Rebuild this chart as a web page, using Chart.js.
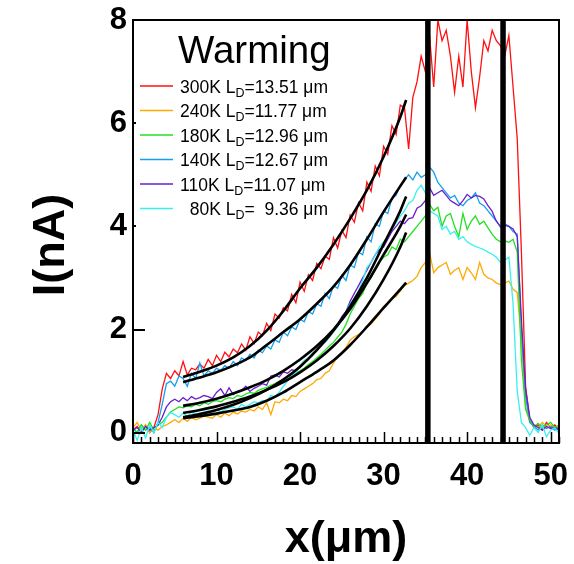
<!DOCTYPE html>
<html>
<head>
<meta charset="utf-8">
<title>Warming</title>
<script src="https://cdn.jsdelivr.net/npm/chart.js@4.4.0/dist/chart.umd.min.js"></script>
<style>
  html, body { margin: 0; padding: 0; background: #fff; }
  #wrap { width: 574px; height: 564px; }
</style>
</head>
<body>
<div id="wrap"><canvas id="chart" width="574" height="564"></canvas></div>
<script>
// traces are sampled every 0.5 um from x = 0 to x = 51
const xStep = 0.5;

const temps = ['300K', '240K', '180K', '140K', '110K', '80K'];
const diffLengths = ['13.51', '11.77', '12.96', '12.67', '11.07', '9.36'];
const seriesColors = ['#ff1010', '#ffaa00', '#22e022', '#149ff0', '#6a1fcc', '#38f0f0'];

const xTickValues = [0, 10, 20, 30, 40, 50];
const yTickValues = [0, 2, 4, 6, 8];

const trace300 = [
  0.05, 0.12, 0.02, 0.15, 0.0, 0.1, 0.35, 0.85, 1.15, 1.05,
  1.2, 1.1, 1.38, 1.12, 1.25, 1.22, 1.33, 1.25, 1.42, 1.3,
  1.5, 1.38, 1.56, 1.47, 1.62, 1.55, 1.72, 1.6, 1.86, 1.73,
  1.95, 1.88, 2.12, 1.98, 2.3, 2.22, 2.42, 2.36, 2.68, 2.52,
  2.92, 2.74, 3.06, 2.95, 3.28, 3.18, 3.42, 3.36, 3.78, 3.58,
  3.92, 3.78, 4.22, 4.08, 4.46, 4.3, 4.86, 4.68, 5.17, 4.98,
  5.55, 5.4, 5.95, 5.78, 6.35, 6.3, 5.5, 6.5, 6.8, 7.3,
  7.0, 7.7, 6.7, 8.0, 7.6, 7.8, 7.3, 6.6, 7.3, 6.7,
  8.0, 7.0, 6.3, 6.9, 7.6, 7.4, 7.8, 7.6, 7.5, 7.3,
  7.7, 6.7, 5.7, 3.5, 0.9, 0.25, 0.1, 0.15, 0.05, 0.2,
  0.1, 0.15, 0.05
];
const trace240 = [
  0.1, 0.2, 0.05, 0.15, 0.0, 0.1, 0.05, 0.12, 0.15, 0.2,
  0.25, 0.2, 0.28, 0.22, 0.3, 0.25, 0.28, 0.32, 0.3, 0.28,
  0.35, 0.3, 0.38, 0.33, 0.4, 0.36, 0.42, 0.4, 0.45, 0.42,
  0.5, 0.45, 0.58, 0.35, 0.6, 0.58, 0.65, 0.62, 0.72, 0.7,
  0.8, 0.85, 0.9, 0.95, 1.03, 1.05, 1.15, 1.2, 1.35, 1.48,
  1.55, 1.65, 1.8, 1.86, 1.9, 1.95, 2.06, 2.1, 2.2, 2.3,
  2.45, 2.52, 2.6, 2.64, 2.75, 2.85, 2.9, 2.95, 3.03, 3.2,
  3.3, 3.5, 3.1, 3.2, 3.25, 3.3, 3.07, 3.15, 3.2, 2.97,
  3.2, 3.1, 2.97, 3.3, 3.07, 3.0, 2.97, 2.9, 2.87, 2.9,
  2.94, 2.78, 2.72, 1.8, 0.5, 0.2, 0.15, 0.1, 0.2, 0.12,
  0.15, 0.1, 0.05
];
const trace180 = [
  0.1, 0.0, 0.15, 0.05, 0.2, 0.05, 0.15, 0.2, 0.3, 0.4,
  0.45, 0.5, 0.48, 0.52, 0.5, 0.55, 0.52, 0.58, 0.55, 0.6,
  0.62, 0.6, 0.65, 0.68, 0.66, 0.72, 0.7, 0.75, 0.78, 0.76,
  0.82, 0.85, 0.88, 0.92, 0.95, 1.0, 1.02, 1.08, 1.1, 1.15,
  1.2, 1.25, 1.32, 1.38, 1.45, 1.52, 1.6, 1.68, 1.75, 1.85,
  1.95, 2.1, 2.3, 2.45, 2.6, 2.7, 2.9, 3.0, 3.15, 3.3,
  3.4, 3.45, 3.6, 3.55, 3.75, 3.7, 3.8, 3.9, 4.0, 4.1,
  4.2, 4.43, 4.3, 4.37, 4.0, 4.2, 4.25, 4.0, 3.8, 4.25,
  3.94, 4.1, 4.2, 4.04, 4.1, 3.97, 3.85, 3.75, 3.7, 3.72,
  3.69, 3.75, 3.5, 1.4, 0.45, 0.25, 0.12, 0.18, 0.1, 0.15,
  0.2, 0.1, 0.15
];
const trace140 = [
  0.08, 0.0, 0.15, 0.05, 0.1, 0.0, 0.2, 0.55, 0.95, 1.0,
  0.9, 1.1, 1.05, 0.9, 1.15, 1.05, 1.35, 1.1, 1.2, 1.15,
  1.25, 1.2, 1.3, 1.25, 1.38, 1.3, 1.45, 1.4, 1.52, 1.45,
  1.6, 1.55, 1.68, 1.62, 1.8, 1.75, 1.95, 1.88, 2.05, 2.0,
  2.2, 2.15, 2.35, 2.3, 2.5, 2.45, 2.7, 2.6, 2.85, 2.8,
  3.05, 2.95, 3.25, 3.2, 3.5, 3.45, 3.8, 3.7, 4.05, 4.0,
  4.3, 4.25, 4.55, 4.6, 4.8, 4.9, 5.0, 4.9, 5.05, 4.95,
  5.0, 5.15, 5.05, 4.85, 4.75, 4.65, 4.55, 4.6, 4.45, 4.4,
  4.5, 4.55, 4.65, 4.45, 4.4, 4.3, 4.2, 4.1, 3.98, 4.05,
  4.0, 3.9, 3.85, 2.0, 0.7, 0.2, 0.12, 0.05, 0.15, 0.08,
  0.12, 0.05, 0.1
];
const trace110 = [
  0.05, 0.1, 0.0, 0.12, 0.05, 0.1, 0.15, 0.3, 0.5, 0.6,
  0.65, 0.6, 0.68, 0.62, 0.7, 0.65, 0.68, 0.72, 0.7, 0.66,
  0.78, 0.85, 0.72, 0.87, 0.74, 0.8, 0.82, 0.9, 0.8, 0.86,
  0.9, 0.95, 0.92, 1.1, 1.12, 1.08, 1.18, 1.15, 1.22, 1.2,
  1.3, 1.35, 1.45, 1.5, 1.62, 1.7, 1.8, 1.85, 2.0, 2.1,
  2.25, 2.35, 2.55, 2.7, 2.85, 3.0, 3.15, 3.3, 3.45, 3.55,
  3.6, 3.75, 3.9, 4.0, 4.1, 4.05, 4.15, 4.17, 4.35, 4.4,
  4.5, 4.75, 4.6, 4.65, 4.7, 4.6, 4.5, 4.45, 4.4, 4.5,
  4.62, 4.55, 4.6, 4.58, 4.53, 4.4, 4.29, 4.1, 4.0, 4.02,
  4.0, 3.95, 3.8, 2.2, 0.84, 0.3, 0.15, 0.1, 0.05, 0.12,
  0.08, 0.1, 0.05
];
const trace80 = [
  0.05, -0.15, 0.1, -0.1, 0.15, 0.0, 0.2, 0.1, 0.3, 0.39,
  0.35, 0.3, 0.38, 0.32, 0.4, 0.36, 0.38, 0.4, 0.42, 0.38,
  0.45, 0.4, 0.45, 0.48, 0.5, 0.45, 0.55, 0.5, 0.55, 0.6,
  0.58, 0.62, 0.6, 0.72, 0.7, 0.78, 0.9, 1.0, 1.1, 1.15,
  1.3, 1.4, 1.45, 1.55, 1.6, 1.7, 1.75, 1.85, 1.95, 2.05,
  2.2, 2.35, 2.5, 2.6, 2.75, 2.95, 3.2, 3.3, 3.45, 3.6,
  3.7, 3.8, 3.95, 4.07, 4.2, 4.3, 4.45, 4.5, 4.7, 4.8,
  4.65, 4.3, 4.25, 4.2, 3.94, 4.0, 3.85, 3.9, 3.75, 3.8,
  3.7, 3.65, 3.61, 3.58, 3.55, 3.5, 3.46, 3.4, 3.3, 3.35,
  3.4, 2.5, 0.8, 0.2, 0.1, -0.05, 0.1, 0.0, 0.15, -0.08,
  0.05, 0.1, -0.02
];

// exponential fits (black)
const fitX = [6, 8, 10, 12, 14, 16, 18, 20, 22, 24, 26, 28, 30, 32, 32.7];
const fit300 = [1.08, 1.18, 1.3, 1.46, 1.68, 1.98, 2.36, 2.8, 3.2, 3.65, 4.15, 4.7, 5.35, 6.12, 6.45];
const fit240 = [0.28, 0.32, 0.37, 0.43, 0.5, 0.62, 0.78, 0.98, 1.18, 1.4, 1.7, 2.05, 2.42, 2.78, 2.91];
const fit180 = [0.38, 0.44, 0.51, 0.6, 0.7, 0.83, 0.98, 1.17, 1.4, 1.68, 2.02, 2.45, 2.97, 3.6, 3.88];
const fit140 = [0.98, 1.07, 1.17, 1.3, 1.46, 1.7, 1.95, 2.2, 2.5, 2.83, 3.25, 3.75, 4.28, 4.78, 4.95];
const fit110 = [0.52, 0.58, 0.66, 0.76, 0.88, 1.02, 1.2, 1.42, 1.68, 2.0, 2.4, 2.9, 3.45, 4.0, 4.23];
const fit80 = [0.3, 0.36, 0.44, 0.54, 0.67, 0.83, 1.03, 1.28, 1.6, 1.98, 2.45, 3.0, 3.65, 4.3, 4.58];

// the two thick vertical markers
const markerX = [35.3, 44.3];

const xMin = 0, xMax = 51;
const yMin = -0.2, yMax = 8;

const traces = [trace300, trace240, trace180, trace140, trace110, trace80];
const fits = [fit300, fit240, fit180, fit140, fit110, fit80];
// which trace ends up on top (lower = drawn later)
const drawOrder = [7, 6, 4, 5, 3, 2];

const FONT = '"Liberation Sans", Arial, sans-serif';

const toPoints = (vals) => vals.map((v, i) => ({ x: i * xStep, y: v }));

const datasets = [];
markerX.forEach(m => {
  datasets.push({
    label: 'marker',
    data: [{ x: m, y: yMin }, { x: m, y: yMax }],
    borderColor: '#000',
    borderWidth: 5.5,
    pointRadius: 0,
    order: 0
  });
});
fits.forEach((f, i) => {
  datasets.push({
    label: 'fit ' + temps[i],
    data: f.map((v, j) => ({ x: fitX[j], y: v })),
    borderColor: '#000',
    borderWidth: 2.6,
    pointRadius: 0,
    cubicInterpolationMode: 'monotone',
    order: 1
  });
});
traces.forEach((t, i) => {
  datasets.push({
    label: temps[i],
    data: toPoints(t),
    borderColor: seriesColors[i],
    borderWidth: 1.3,
    pointRadius: 0,
    tension: 0,
    order: drawOrder[i]
  });
});

// box round the plot + inward tick marks + y title
const framePlugin = {
  id: 'frame',
  afterDatasetsDraw(chart) {
    const { ctx, chartArea: a, scales: { x, y } } = chart;
    ctx.save();
    ctx.strokeStyle = '#000';
    ctx.lineWidth = 1.5;
    for (let v = xMin; v <= xMax; v += 1) {
      const px = Math.round(x.getPixelForValue(v)) + 0.5;
      const len = v % 10 === 0 ? 11 : 6;
      ctx.beginPath();
      ctx.moveTo(px, a.bottom);
      ctx.lineTo(px, a.bottom - len);
      ctx.stroke();
    }
    ctx.lineWidth = 2;
    yTickValues.forEach(v => {
      const py = Math.round(y.getPixelForValue(v));
      const len = (v === 4 || v === 6) ? 3 : 12;
      ctx.beginPath();
      ctx.moveTo(a.left, py);
      ctx.lineTo(a.left + len, py);
      ctx.stroke();
    });
    ctx.strokeRect(a.left, a.top, a.right - a.left, a.bottom - a.top);

    // y axis title, a bit below the middle of the axis as in the figure
    ctx.translate(52, 245);
    ctx.rotate(-Math.PI / 2);
    ctx.fillStyle = '#000';
    ctx.textAlign = 'center';
    ctx.textBaseline = 'middle';
    ctx.font = 'bold 45px ' + FONT;
    ctx.fillText('I(nA)', 0, 0);
    ctx.restore();
  }
};

// legend with the subscripted L_D
const legendPlugin = {
  id: 'warmingLegend',
  afterDatasetsDraw(chart) {
    const ctx = chart.ctx;
    ctx.save();
    ctx.fillStyle = '#000';
    ctx.textBaseline = 'alphabetic';
    ctx.textAlign = 'left';
    ctx.font = '38.5px ' + FONT;
    ctx.fillText('Warming', 178, 63);
    temps.forEach((t, i) => {
      const rowY = 86 + i * 24.5;
      ctx.strokeStyle = seriesColors[i];
      ctx.lineWidth = 1.6;
      ctx.beginPath();
      ctx.moveTo(140, rowY);
      ctx.lineTo(173, rowY);
      ctx.stroke();
      const base = rowY + 6.5;
      let x = 180;
      ctx.font = '17.5px ' + FONT;
      const head = (t.length < 4 ? '  ' : '') + t + ' L';
      ctx.fillText(head, x, base);
      x += ctx.measureText(head).width;
      ctx.font = '12.5px ' + FONT;
      ctx.fillText('D', x, base + 4);
      x += ctx.measureText('D').width;
      ctx.font = '17.5px ' + FONT;
      const len = diffLengths[i].length < 5 ? '  ' + diffLengths[i] : diffLengths[i];
      ctx.fillText('=' + len + ' \u03bcm', x, base);
    });
    ctx.restore();
  }
};

new Chart(document.getElementById('chart'), {
  type: 'line',
  data: { datasets },
  options: {
    responsive: false,
    animation: false,
    events: [],
    layout: { padding: { top: 20, right: 15, left: 0, bottom: 0 } },
    plugins: {
      legend: { display: false },
      tooltip: { enabled: false }
    },
    scales: {
      x: {
        type: 'linear',
        min: xMin,
        max: xMax,
        grid: { display: false, drawTicks: false },
        border: { display: false },
        afterBuildTicks: s => { s.ticks = xTickValues.map(v => ({ value: v })); },
        afterFit: s => { s.height = 121; s.paddingLeft = 0; s.paddingRight = 0; },
        ticks: {
          color: '#000',
          padding: 15,
          maxRotation: 0,
          font: { family: FONT, size: 31, weight: 'bold' }
        },
        title: {
          display: true,
          text: 'x(\u03bcm)',
          color: '#000',
          padding: { top: 0, bottom: 2 },
          font: { family: FONT, size: 45, weight: 'bold', lineHeight: 1 }
        }
      },
      y: {
        type: 'linear',
        min: yMin,
        max: yMax,
        grid: { display: false, drawTicks: false },
        border: { display: false },
        afterBuildTicks: s => { s.ticks = yTickValues.map(v => ({ value: v })); },
        afterFit: s => { s.width = 133; s.paddingTop = 0; s.paddingBottom = 0; },
        ticks: {
          color: '#000',
          padding: 6,
          font: { family: FONT, size: 31, weight: 'bold' }
        }
      }
    }
  },
  plugins: [framePlugin, legendPlugin]
});
</script>
</body>
</html>
